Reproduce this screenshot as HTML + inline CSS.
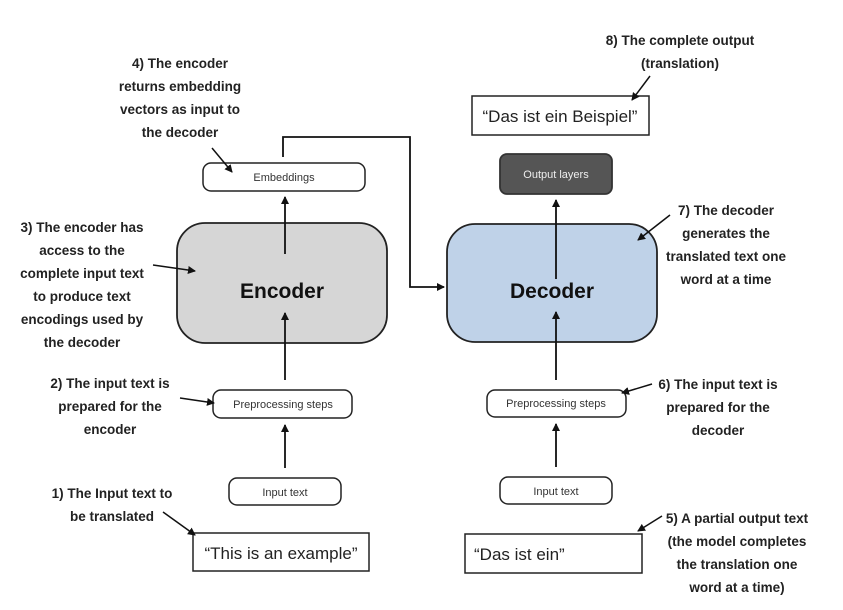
<!DOCTYPE html>
<html><head><meta charset="utf-8"><style>
html,body{margin:0;padding:0;background:#fff;}
svg{display:block;}
.a{font-family:"Liberation Sans Narrow","Liberation Sans",sans-serif;font-weight:bold;font-size:13.5px;fill:#222;text-anchor:middle;}
.b{font-family:"Liberation Sans",sans-serif;font-size:11px;fill:#333;text-anchor:middle;}
</style></head><body>
<svg width="843" height="610" viewBox="0 0 843 610" xmlns="http://www.w3.org/2000/svg">
<defs><marker id="h" markerWidth="8" markerHeight="8" refX="7" refY="4" orient="auto" markerUnits="userSpaceOnUse"><path d="M0,0 L8,4 L0,8 z" fill="#111"/></marker></defs>
<g stroke="#222" stroke-width="1.8" fill="none">
<rect x="177" y="223" width="210" height="120" rx="28" fill="#d6d6d6"/>
<rect x="447" y="224" width="210" height="118" rx="28" fill="#bfd2e8"/>
<rect x="203" y="163" width="162" height="28" rx="8" fill="#fff" stroke-width="1.5"/>
<rect x="500" y="154" width="112" height="40" rx="7" fill="#555" stroke="#333"/>
<rect x="472" y="96" width="177" height="39" fill="#fff" stroke-width="1.5"/>
<rect x="213" y="390" width="139" height="28" rx="8" fill="#fff" stroke-width="1.5"/>
<rect x="229" y="478" width="112" height="27" rx="8" fill="#fff" stroke-width="1.5"/>
<rect x="193" y="533" width="176" height="38" fill="#fff" stroke-width="1.5"/>
<rect x="487" y="390" width="139" height="27" rx="8" fill="#fff" stroke-width="1.5"/>
<rect x="500" y="477" width="112" height="27" rx="8" fill="#fff" stroke-width="1.5"/>
<rect x="465" y="534" width="177" height="39" fill="#fff" stroke-width="1.5"/>
</g>
<g stroke="#111" stroke-width="1.8" fill="none" marker-end="url(#h)">
<line x1="285" y1="254" x2="285" y2="197"/>
<line x1="285" y1="380" x2="285" y2="313"/>
<line x1="285" y1="468" x2="285" y2="425"/>
<line x1="556" y1="279" x2="556" y2="200"/>
<line x1="556" y1="380" x2="556" y2="312"/>
<line x1="556" y1="467" x2="556" y2="424"/>
<polyline points="283,157 283,137 410,137 410,287 444,287"/>
<g stroke-width="1.5">
<line x1="212" y1="148" x2="232" y2="172"/>
<line x1="153" y1="265" x2="195" y2="271"/>
<line x1="180" y1="398" x2="214" y2="403"/>
<line x1="163" y1="512" x2="195" y2="535"/>
<line x1="650" y1="76" x2="632" y2="100"/>
<line x1="670" y1="215" x2="638" y2="240"/>
<line x1="652" y1="384" x2="622" y2="393"/>
<line x1="662" y1="516" x2="638" y2="531"/>
</g>
</g>
<text x="282" y="298" style="font-family:'Liberation Sans',sans-serif;font-weight:bold;font-size:21px;text-anchor:middle" fill="#111">Encoder</text>
<text x="552" y="298" style="font-family:'Liberation Sans',sans-serif;font-weight:bold;font-size:21px;text-anchor:middle" fill="#111">Decoder</text>
<text class="b" x="284" y="181">Embeddings</text>
<text class="b" x="556" y="178" fill="#eee" style="fill:#eee">Output layers</text>
<text x="560" y="122" style="font-family:'Liberation Sans',sans-serif;font-size:17px;text-anchor:middle" fill="#222">“Das ist ein Beispiel”</text>
<text class="b" x="283" y="408">Preprocessing steps</text>
<text class="b" x="285" y="496">Input text</text>
<text x="281" y="559" style="font-family:'Liberation Sans',sans-serif;font-size:17px;text-anchor:middle" fill="#222">“This is an example”</text>
<text class="b" x="556" y="407">Preprocessing steps</text>
<text class="b" x="556" y="495">Input text</text>
<text x="474" y="560" style="font-family:'Liberation Sans',sans-serif;font-size:17px" fill="#222">“Das ist ein”</text>
<g class="a">
<text x="180" y="68">4) The encoder</text><text x="180" y="91">returns embedding</text><text x="180" y="114">vectors as input to</text><text x="180" y="137">the decoder</text>
<text x="82" y="232">3) The encoder has</text><text x="82" y="255">access to the</text><text x="82" y="278">complete input text</text><text x="82" y="301">to produce text</text><text x="82" y="324">encodings used by</text><text x="82" y="347">the decoder</text>
<text x="110" y="388">2) The input text is</text><text x="110" y="411">prepared for the</text><text x="110" y="434">encoder</text>
<text x="112" y="498">1) The Input text to</text><text x="112" y="521">be translated</text>
<text x="680" y="45">8) The complete output</text><text x="680" y="68">(translation)</text>
<text x="726" y="215">7) The decoder</text><text x="726" y="238">generates the</text><text x="726" y="261">translated text one</text><text x="726" y="284">word at a time</text>
<text x="718" y="389">6) The input text is</text><text x="718" y="412">prepared for the</text><text x="718" y="435">decoder</text>
<text x="737" y="523">5) A partial output text</text><text x="737" y="546">(the model completes</text><text x="737" y="569">the translation one</text><text x="737" y="592">word at a time)</text>
</g>
</svg>
</body></html>
